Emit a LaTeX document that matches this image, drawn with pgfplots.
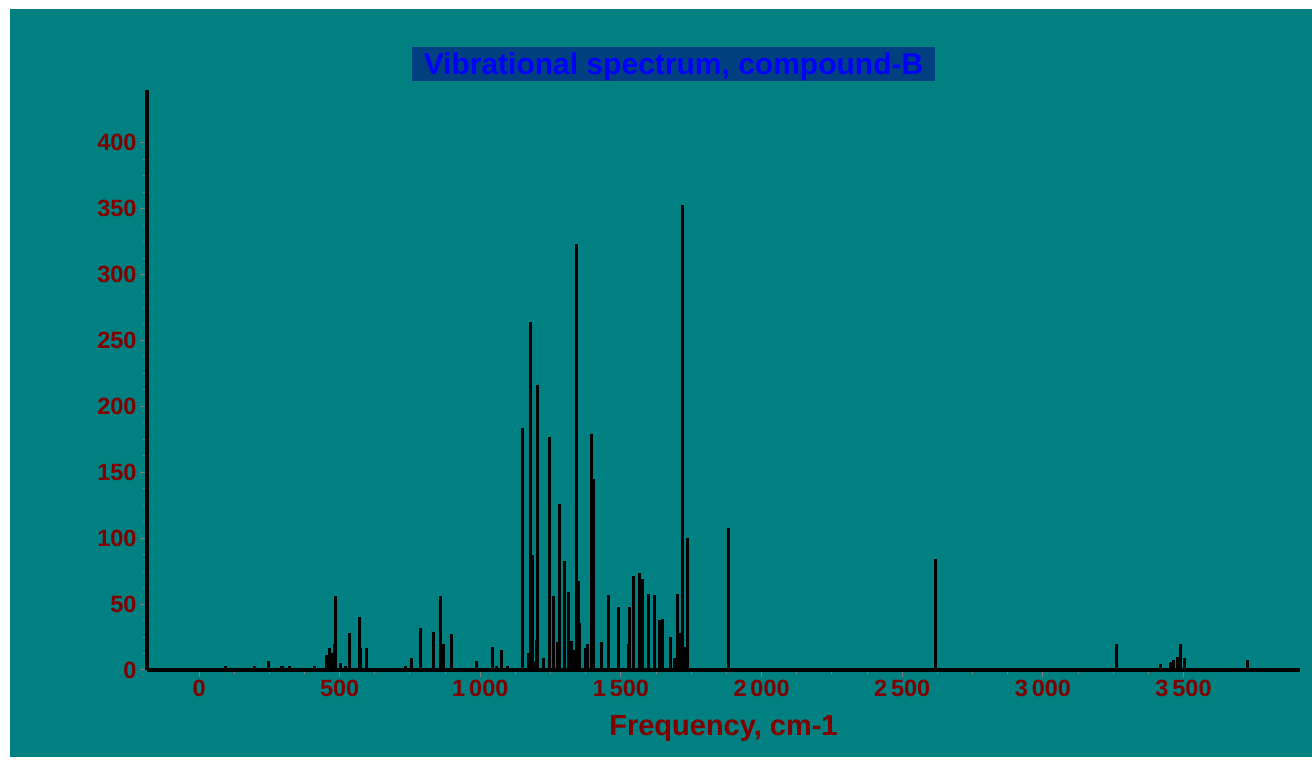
\documentclass[border=0pt]{standalone}
\usepackage{pgfplots}
\pgfplotsset{compat=1.18}
\usepackage{fontspec}
\setmainfont{Liberation Sans}
\definecolor{bgteal}{RGB}{0,128,128}
\definecolor{darkred}{RGB}{128,0,0}
\definecolor{titlebox}{RGB}{0,64,128}
\begin{document}
\begin{tikzpicture}
\fill[white] (-147pt,-95pt) rectangle (1165pt,670pt);
\fill[bgteal] (-137pt,-87pt) rectangle (1165pt,661pt);
\begin{axis}[
  at={(0,0)}, anchor=south west,
  scale only axis, width=1153pt, height=580pt,
  xmin=-185, xmax=3914, ymin=0, ymax=440,
  axis x line=bottom, axis y line=left,
  axis line style={-, black, line width=3.5pt},
  xtick={0,500,...,3500},
  xticklabels={0,500,1\,000,1\,500,2\,000,2\,500,3\,000,3\,500},
  minor x tick num=3,
  ytick={0,50,...,400},
  minor y tick num=3,
  tick style={gray, line width=1pt},
  tick align=outside,
  major tick length=7pt, minor tick length=4pt,
  /pgf/number format/assume math mode=true,
  ticklabel style={font=\fontsize{23.5}{23.5}\selectfont\bfseries, text=darkred},
  xlabel={Frequency, cm-1},
  xlabel style={at={(axis description cs:0.5,0)}, anchor=center, yshift=-59pt,
    font=\fontsize{29}{29}\selectfont\bfseries, text=darkred},
  clip=false,
]
\addplot[ycomb, black, line width=3pt] coordinates {
(49,1.7) (93,3) (120,1.7) (158,1.7) (197,3) (211,1.7) (219,1.7) (246,6.8)
(292,3) (298,3) (323,3) (362,1.7) (410,3)
(452,11.4) (464,16.4) (472,12.6) (480,19.7) (486,56) (503,5.6) (521,3)
(536,28.3) (569,40.4) (574,16.4) (597,16.4) (668,1.7) (733,3) (756,8.8)
(789,31.6) (800,1.7) (832,29) (860,56) (869,19.7) (898,27) (931,1.5)
(986,7) (1007,1.5) (1045,17.5) (1057,3) (1077,15) (1098,3)
(1150,183.5) (1170,12.6) (1177,264) (1184,87) (1191,6.3) (1198,23) (1204,216)
(1225,8.8) (1247,176.5) (1261,56) (1273,21.5) (1281,126) (1298,83) (1314,59.3)
(1324,22) (1332,15) (1341,323) (1348,67.7) (1353,35.3) (1374,17) (1381,19.7)
(1397,179) (1403,145) (1430,21) (1457,56.8) (1490,47.5) (1526,20) (1531,47.5)
(1543,71) (1566,73.7) (1577,69) (1599,58) (1621,56.8) (1638,38) (1649,39)
(1676,24.7) (1691,8.8) (1702,58) (1712,28.3) (1720,352.8) (1730,17.7) (1737,100.2)
(1884,107.5) (2619,84) (3261,19.7) (3419,4.4) (3453,5) (3458,6) (3464,7.6)
(3479,10) (3491,19.7) (3502,8.8) (3726,7.6)
};
\end{axis}
\fill[titlebox] (265pt,589pt) rectangle (788pt,623pt);
\node[text=blue, font=\fontsize{30}{30}\selectfont\bfseries, inner sep=0pt]
  at (526.5pt,603pt) {Vibrational spectrum, compound-B};
\end{tikzpicture}
\end{document}
